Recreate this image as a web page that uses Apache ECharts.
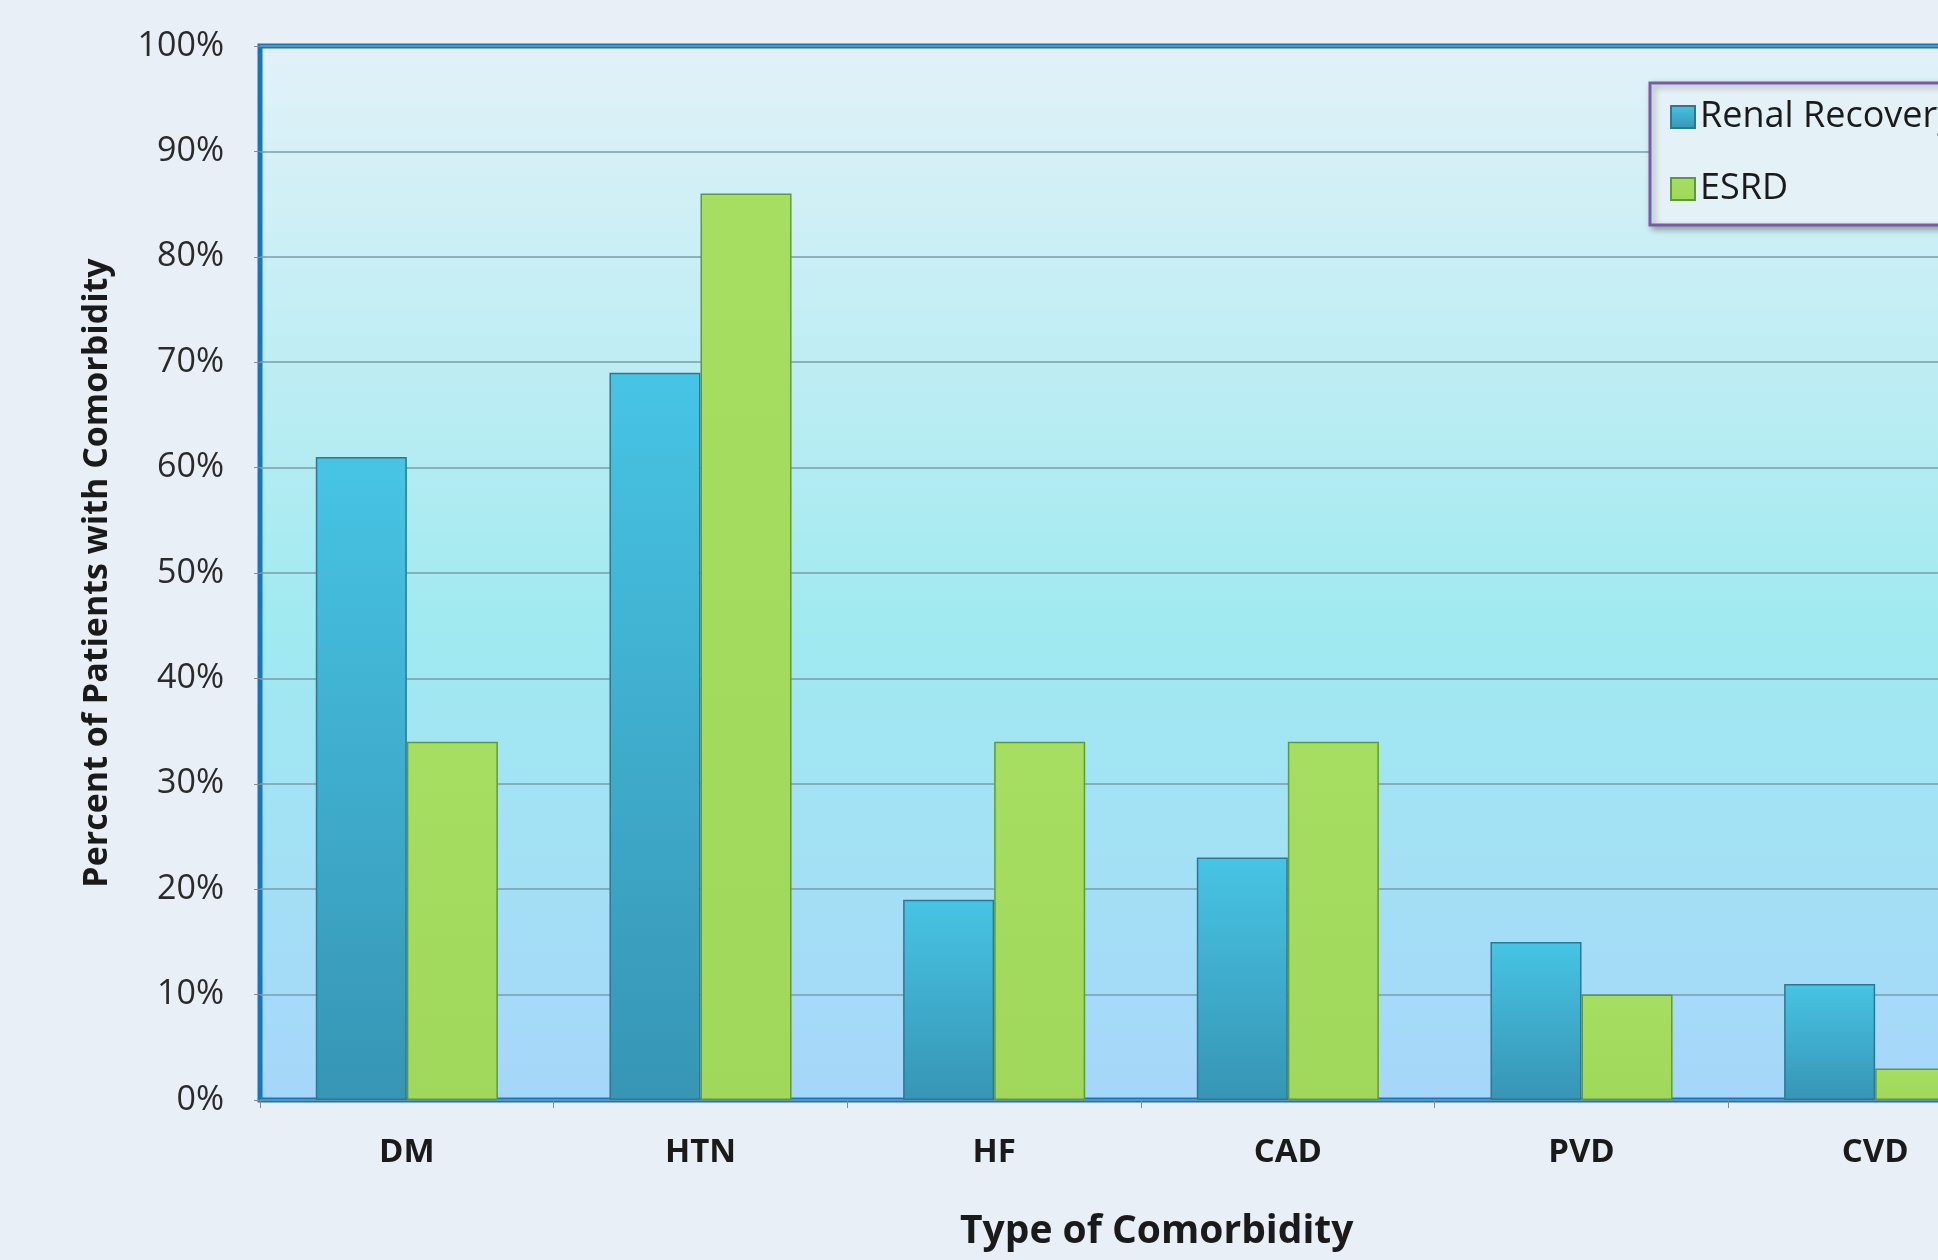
<!DOCTYPE html>
<html>
<head>
<meta charset="utf-8">
<script src="https://cdn.jsdelivr.net/npm/echarts@6/dist/echarts.min.js"></script>
<style>
  html, body { margin: 0; padding: 0; background: #e8eff6; }
  #chart { width: 1938px; height: 1260px; }
</style>
</head>
<body>
<div id="chart"></div>
<script>
// comorbidity categories and percent of patients per outcome group
const categories = ['DM', 'HTN', 'HF', 'CAD', 'PVD', 'CVD'];
const renalRecovery = [61, 69, 19, 23, 15, 11];
const esrd = [34, 86, 34, 34, 10, 3];
const yTicks = [0, 10, 20, 30, 40, 50, 60, 70, 80, 90, 100];

const font = '"Open Sans", "DejaVu Sans", sans-serif';
const chart = echarts.init(document.getElementById('chart'));

const blueBar = new echarts.graphic.LinearGradient(0, 0, 0, 1, [
  { offset: 0, color: '#47c4e4' },
  { offset: 1, color: '#3795b5' },
]);
const greenBar = new echarts.graphic.LinearGradient(0, 0, 0, 1, [
  { offset: 0, color: '#a6de62' },
  { offset: 1, color: '#9fd85a' },
]);

chart.setOption({
  backgroundColor: '#e8eff6',
  textStyle: { fontFamily: font },
  // plot runs past the right edge of the picture, like the cropped original
  grid: {
    left: 260, top: 46, height: 1054, width: 1762,
    outerBoundsMode: 'none',
    show: true,
    borderColor: '#1676bd', borderWidth: 5,
    backgroundColor: new echarts.graphic.LinearGradient(0, 0, 0, 1, [
      { offset: 0, color: '#e2f1f8' },
      { offset: 0.55, color: '#a0eaf0' },
      { offset: 1, color: '#a6d6fa' },
    ]),
  },
  legend: {
    orient: 'vertical',
    left: 1650, top: 83,
    padding: [16, 60, 18, 20],
    itemGap: 36,
    itemWidth: 24, itemHeight: 22,
    icon: 'rect',
    backgroundColor: '#e4f1f6',
    borderColor: '#7a5aa8', borderWidth: 3,
    shadowColor: 'rgba(0,0,0,0.3)', shadowBlur: 6, shadowOffsetX: 3, shadowOffsetY: 3,
    textStyle: { fontSize: 36, color: '#1a1a1a', fontFamily: font },
    data: ['Renal Recovery', 'ESRD'],
  },
  xAxis: {
    type: 'category',
    data: categories,
    axisLine: { show: false },
    axisTick: { show: true, length: 8, lineStyle: { color: '#8a8a8a', width: 1 } },
    axisLabel: { fontSize: 33, fontWeight: 'bold', color: '#1a1a1a', margin: 36 },
  },
  yAxis: {
    type: 'value',
    min: yTicks[0], max: yTicks[yTicks.length - 1], interval: 10,
    name: 'Percent of Patients with Comorbidity',
    nameLocation: 'middle', nameGap: 146,
    nameTextStyle: { fontSize: 34, fontWeight: 'bold', color: '#1a1a1a' },
    axisLine: { show: false },
    axisTick: { show: true, length: 6, lineStyle: { color: '#8a8a8a' } },
    axisLabel: { fontSize: 34, color: '#2a2a2a', margin: 36, formatter: '{value}%' },
    splitLine: { lineStyle: { color: '#7a9ca8', width: 1.5 } },
  },
  graphic: [{
    type: 'text', left: 1164 - 204, top: 1212,
    style: { text: 'Type of Comorbidity', fill: '#1a1a1a', font: 'bold 39px ' + font },
  }],
  series: [
    {
      name: 'Renal Recovery', type: 'bar', data: renalRecovery,
      barGap: '0%', barCategoryGap: '38%',
      itemStyle: { color: blueBar, borderColor: '#2b7890', borderWidth: 1.5 },
    },
    {
      name: 'ESRD', type: 'bar', data: esrd,
      barGap: '0%', barCategoryGap: '38%',
      itemStyle: { color: greenBar, borderColor: '#5f9a3a', borderWidth: 1.5 },
    },
  ],
});
</script>
</body>
</html>
